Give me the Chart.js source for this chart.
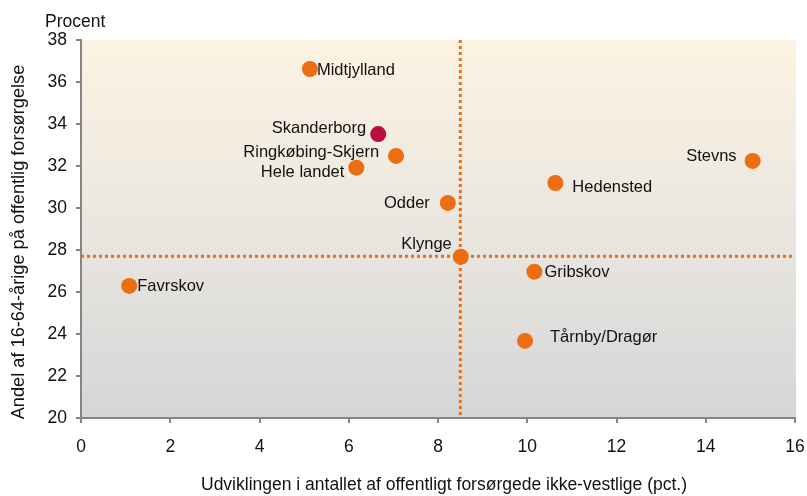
<!DOCTYPE html>
<html>
<head>
<meta charset="utf-8">
<script src="https://cdn.jsdelivr.net/npm/chart.js@4/dist/chart.umd.min.js"></script>
<style>
  html, body { margin: 0; padding: 0; background: #ffffff; }
  #wrap { width: 807px; height: 496px; }
</style>
</head>
<body>
<div id="wrap"><canvas id="c" width="807" height="496"></canvas></div>
<script>
// ---- Data ----
const names = ["Midtjylland", "Skanderborg", "Ringkøbing-Skjern", "Hele landet", "Odder", "Klynge", "Stevns", "Hedensted", "Gribskov", "Tårnby/Dragør", "Favrskov"];
const xValues = [5.13, 6.66, 7.06, 6.17, 8.22, 8.51, 15.05, 10.63, 10.16, 9.95, 1.08];
const yValues = [36.62, 33.52, 32.48, 31.92, 30.24, 27.68, 32.24, 31.19, 26.97, 23.67, 26.29];
const highlighted = ["Skanderborg"];
const xReference = 8.5;
const yReference = 27.7;
const xTickValues = [0, 2, 4, 6, 8, 10, 12, 14, 16];
const yTickValues = [20, 22, 24, 26, 28, 30, 32, 34, 36, 38];
const xTitle = "Udviklingen i antallet af offentligt forsørgede ikke-vestlige (pct.)";
const yTitle = "Andel af 16-64-årige på offentlig forsørgelse";
const unitLabel = "Procent";

// ---- Styling (label placement relative to each point) ----
const labelStyle = {
  "Midtjylland": ["left", 7, 1],
  "Skanderborg": ["right", -12, -6],
  "Ringkøbing-Skjern": ["right", -17, -3],
  "Hele landet": ["right", -12, 5],
  "Odder": ["right", -18, 0],
  "Klynge": ["right", -9, -12],
  "Stevns": ["right", -16, -5],
  "Hedensted": ["left", 17, 4],
  "Gribskov": ["left", 10, 1],
  "Tårnby/Dragør": ["left", 25, -3],
  "Favrskov": ["left", 8, 1]
};
const ORANGE = "#ED6E10";
const RED = "#BC0B3D";
const AXIS = "#858585";
const TEXT = "#111111";
const FONT = "'Liberation Sans', Arial, sans-serif";

const points = xValues.map((x, i) => ({ x: x, y: yValues[i] }));
const colors = names.map(n => highlighted.includes(n) ? RED : ORANGE);

const bgPlugin = {
  id: 'bg',
  beforeDraw(chart) {
    const { ctx, chartArea: a } = chart;
    const g = ctx.createLinearGradient(0, a.top, 0, a.bottom);
    g.addColorStop(0, "#FDF3E3");
    g.addColorStop(0.5, "#EAE6DF");
    g.addColorStop(1, "#D5D6D8");
    ctx.save();
    ctx.fillStyle = g;
    ctx.fillRect(a.left, a.top, a.right - a.left + 1, a.bottom - a.top);
    ctx.restore();
  },
  beforeDatasetsDraw(chart) {
    const { ctx, chartArea: a, scales } = chart;
    const px = scales.x.getPixelForValue(xReference);
    const py = scales.y.getPixelForValue(yReference);
    ctx.save();
    ctx.strokeStyle = ORANGE;
    ctx.lineWidth = 3;
    ctx.setLineDash([3, 3]);
    ctx.beginPath();
    ctx.moveTo(px, a.top);
    ctx.lineTo(px, a.bottom);
    ctx.stroke();
    ctx.beginPath();
    ctx.moveTo(a.left, py);
    ctx.lineTo(a.right, py);
    ctx.stroke();
    ctx.restore();
  },
  afterDatasetsDraw(chart) {
    const { ctx, scales } = chart;
    ctx.save();
    ctx.font = "16.5px " + FONT;
    ctx.fillStyle = TEXT;
    ctx.textBaseline = "middle";
    names.forEach((n, i) => {
      const st = labelStyle[n];
      const px = scales.x.getPixelForValue(xValues[i]);
      const py = scales.y.getPixelForValue(yValues[i]);
      ctx.textAlign = st[0];
      ctx.fillText(n, px + st[1], py + st[2]);
    });
    ctx.restore();
  },
  afterDraw(chart) {
    const { ctx } = chart;
    ctx.save();
    ctx.fillStyle = TEXT;
    ctx.font = "17.5px " + FONT;
    ctx.textAlign = "center";
    ctx.textBaseline = "middle";
    ctx.fillText(xTitle, 444, 485);
    ctx.textAlign = "left";
    ctx.fillText(unitLabel, 45, 22);
    ctx.save();
    ctx.font = "18.2px " + FONT;
    ctx.textAlign = "center";
    ctx.translate(19, 242);
    ctx.rotate(-Math.PI / 2);
    ctx.fillText(yTitle, 0, 0);
    ctx.restore();
    ctx.restore();
  }
};

new Chart(document.getElementById('c'), {
  type: 'scatter',
  data: {
    datasets: [{
      data: points,
      pointRadius: 8,
      pointHoverRadius: 8,
      pointBackgroundColor: colors,
      pointBorderWidth: 0,
      pointBorderColor: colors
    }]
  },
  options: {
    responsive: false,
    animation: false,
    events: [],
    layout: { padding: { top: 40, right: 12, bottom: 0, left: 0 } },
    plugins: { legend: { display: false }, tooltip: { enabled: false } },
    scales: {
      x: {
        type: 'linear',
        min: 0, max: 16,
        afterBuildTicks: s => { s.ticks = xTickValues.map(v => ({ value: v })); },
        afterFit: s => { s.height = 78; s.paddingLeft = 0; s.paddingRight = 0; },
        grid: { drawOnChartArea: false, drawTicks: true, tickLength: 5, color: AXIS, lineWidth: 2 },
        border: { color: AXIS, width: 2 },
        ticks: { color: TEXT, font: { family: FONT, size: 17.5 }, padding: 14, maxRotation: 0 }
      },
      y: {
        type: 'linear',
        min: 20, max: 38,
        afterBuildTicks: s => { s.ticks = yTickValues.map(v => ({ value: v })); },
        afterFit: s => { s.width = 81; s.paddingTop = 0; s.paddingBottom = 0; },
        grid: { drawOnChartArea: false, drawTicks: true, tickLength: 5, color: AXIS, lineWidth: 2 },
        border: { color: AXIS, width: 2 },
        ticks: { color: TEXT, font: { family: FONT, size: 17.5 }, padding: 9 }
      }
    }
  },
  plugins: [bgPlugin]
});
</script>
</body>
</html>
